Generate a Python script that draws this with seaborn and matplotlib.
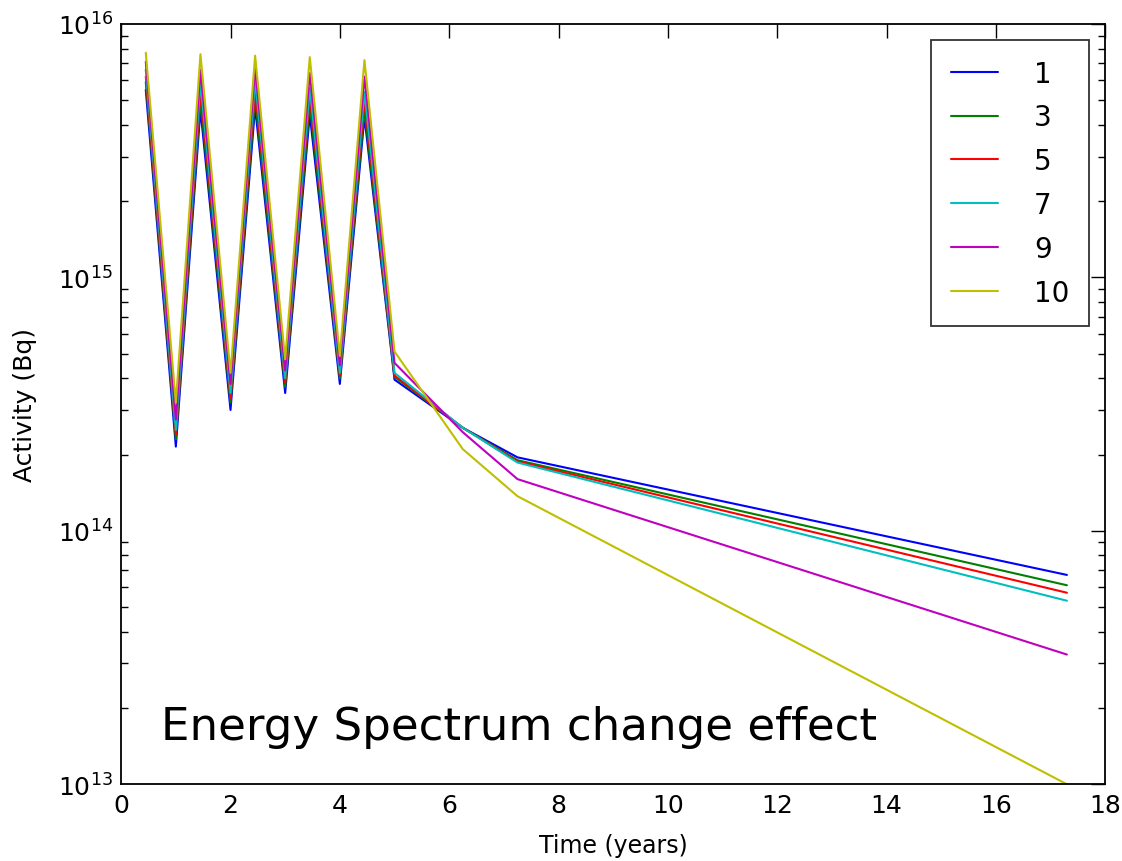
import pandas as pd
import seaborn as sns
import matplotlib.pyplot as plt

# time points (years)
time = [0.45, 1.0, 1.45, 2.0, 2.45, 3.0, 3.45, 4.0, 4.45, 5.0, 6.25, 7.25, 17.3]

# activity (Bq) for each energy spectrum case
act_1 = [5.5e15, 2.15e14, 4.6e15, 3.0e14, 4.7e15, 3.5e14, 4.4e15, 3.8e14, 4.3e15, 3.95e14, 2.55e14, 1.95e14, 6.7e13]
act_3 = [5.9e15, 2.3e14, 5.0e15, 3.2e14, 5.1e15, 3.7e14, 4.8e15, 4.0e14, 4.6e15, 4.05e14, 2.55e14, 1.9e14, 6.1e13]
act_5 = [6.2e15, 2.4e14, 5.4e15, 3.35e14, 5.5e15, 3.85e14, 5.2e15, 4.1e14, 5.0e15, 4.1e14, 2.55e14, 1.88e14, 5.7e13]
act_7 = [6.6e15, 2.5e14, 5.9e15, 3.5e14, 6.0e15, 4.0e14, 5.6e15, 4.2e14, 5.4e15, 4.2e14, 2.55e14, 1.86e14, 5.3e13]
act_9 = [7.1e15, 2.75e14, 6.6e15, 3.8e14, 6.7e15, 4.3e14, 6.4e15, 4.5e14, 6.2e15, 4.6e14, 2.45e14, 1.6e14, 3.25e13]
act_10 = [7.7e15, 3.2e14, 7.6e15, 4.2e14, 7.5e15, 4.75e14, 7.4e15, 4.9e14, 7.2e15, 5.1e14, 2.1e14, 1.37e14, 1.0e13]

labels = ['1', '3', '5', '7', '9', '10']
series = [act_1, act_3, act_5, act_7, act_9, act_10]
colors = ['#0000ff', '#008000', '#ff0000', '#00bfbf', '#bf00bf', '#bfbf00']

rows = []
for lab, vals in zip(labels, series):
    for t, v in zip(time, vals):
        rows.append({'Time': t, 'Activity': v, 'case': lab})
df = pd.DataFrame(rows)

sns.set_style('white', {'xtick.direction': 'in', 'ytick.direction': 'in'})
plt.rcParams['font.family'] = ['DejaVu Sans']
plt.rcParams['xtick.top'] = True
plt.rcParams['ytick.right'] = True
plt.rcParams['text.color'] = 'black'
plt.rcParams['axes.labelcolor'] = 'black'

fig = plt.figure(figsize=(11.22, 8.62), dpi=100)
ax = fig.add_axes([0.108, 0.089, 0.877, 0.882])

sns.lineplot(data=df, x='Time', y='Activity', hue='case', hue_order=labels,
             palette=colors, estimator=None, sort=False, linewidth=1.5, ax=ax)

ax.set_yscale('log')
ax.set_xlim(0, 18)
ax.set_ylim(1e13, 1e16)
ax.set_xticks(range(0, 19, 2))
ax.tick_params(which='major', length=10, width=1, labelsize=18, color='black',
               labelcolor='black', pad=6)
ax.tick_params(which='minor', length=5, width=1, color='black')
ax.tick_params(axis='x', which='minor', bottom=False, top=False)
ax.tick_params(axis='y', which='minor', left=True, right=True)
for s in ax.spines.values():
    s.set_color('black')
    s.set_linewidth(1.3)

ax.set_xlabel('Time (years)', fontsize=17)
ax.set_ylabel('Activity (Bq)', fontsize=18)
ax.xaxis.set_label_coords(0.5, -0.064)
ax.yaxis.set_label_coords(-0.086, 0.5)

handles, labs = ax.get_legend_handles_labels()
leg = ax.legend(handles, labs, loc='upper right', fontsize=20, frameon=True,
                fancybox=False, handlelength=1.7, borderpad=0.7,
                labelspacing=0.57, handletextpad=1.3, borderaxespad=0.58)
leg.get_frame().set_edgecolor('black')
leg.get_frame().set_linewidth(1.3)
for h in leg.get_lines():
    h.set_linewidth(1.5)

ax.text(0.04, 0.059, 'Energy Spectrum change effect', transform=ax.transAxes,
        fontsize=32.5, color='black')

fig.savefig('out.png', dpi=100)
